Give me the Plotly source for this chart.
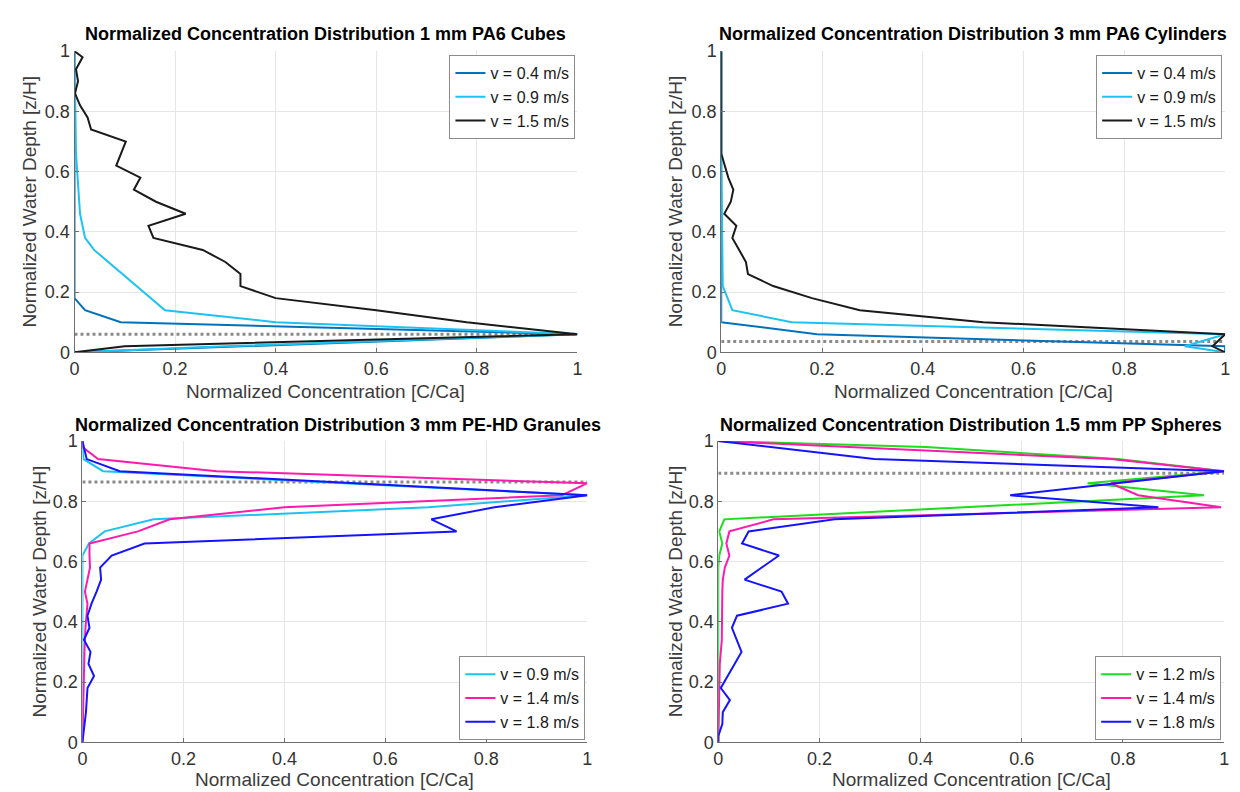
import plotly.graph_objects as go

W, H = 1240, 792

# ---------------- data (x = normalized concentration C/Ca, y = normalized depth z/H) -------------
# Panel 1: 1 mm PA6 cubes
p1_y_04 = [0, 0.02, 0.06, 0.10, 0.14, 0.18, 1.00]
p1_x_04 = [0, 0.33, 1.00, 0.092, 0.021, 0.0, 0.0]
p1_y_09 = [0, 0.02, 0.06, 0.10, 0.14, 0.34, 0.38, 0.46, 0.66, 1.00]
p1_x_09 = [0, 0.30, 1.00, 0.40, 0.18, 0.039, 0.021, 0.011, 0.003, 0.0]
p1_y_15 = [0, 0.02, 0.06, 0.10, 0.14, 0.18, 0.22, 0.26, 0.30, 0.34, 0.38, 0.42, 0.46, 0.50,
           0.54, 0.58, 0.62, 0.66, 0.70, 0.74, 0.78, 0.82, 0.86, 0.90, 0.94, 0.98, 1.00]
p1_x_15 = [0, 0.10, 1.00, 0.78, 0.60, 0.40, 0.33, 0.33, 0.30, 0.255, 0.157, 0.147, 0.221, 0.162,
           0.118, 0.131, 0.083, 0.093, 0.102, 0.033, 0.026, 0.011, 0.001, 0.007, 0.003, 0.016, 0.0]
p1_ref = 0.06

# Panel 2: 3 mm PA6 cylinders
p2_y_04 = [0, 0.02, 0.06, 0.10, 1.00]
p2_x_04 = [1.00, 1.00, 0.19, 0.0, 0.0]
p2_y_09 = [0, 0.02, 0.06, 0.10, 0.14, 0.22, 0.66, 1.00]
p2_x_09 = [1.00, 0.92, 1.00, 0.14, 0.022, 0.003, 0.0, 0.0]
p2_y_15 = [0, 0.02, 0.06, 0.10, 0.14, 0.18, 0.22, 0.26, 0.30, 0.34, 0.38, 0.42, 0.46, 0.50,
           0.54, 0.58, 0.62, 0.66, 1.00]
p2_x_15 = [1.00, 0.975, 1.00, 0.52, 0.275, 0.18, 0.103, 0.053, 0.049, 0.035, 0.022, 0.03, 0.006,
           0.019, 0.024, 0.014, 0.007, 0.0, 0.0]
p2_ref = 0.036

# Panel 3: 3 mm PE-HD granules
p3_y_09 = [0, 0.62, 0.66, 0.70, 0.74, 0.78, 0.82, 0.90, 0.94, 1.00]
p3_x_09 = [0, 0.0, 0.013, 0.044, 0.141, 0.685, 1.00, 0.041, 0.002, 0.0]
p3_y_14 = [0, 0.10, 0.20, 0.30, 0.38, 0.42, 0.46, 0.50, 0.54, 0.58, 0.62, 0.66, 0.70, 0.74,
           0.78, 0.82, 0.86, 0.90, 0.94, 0.98, 1.00]
p3_x_14 = [0, 0.001, 0.002, 0.004, 0.006, 0.008, 0.010, 0.005, 0.010, 0.015, 0.014, 0.014, 0.11,
           0.173, 0.40, 0.95, 1.00, 0.266, 0.031, 0.0, 0.0]
p3_y_18 = [0, 0.10, 0.18, 0.22, 0.26, 0.30, 0.34, 0.38, 0.42, 0.46, 0.50, 0.54, 0.58, 0.62,
           0.66, 0.70, 0.74, 0.78, 0.82, 0.90, 0.94, 1.00]
p3_x_18 = [0, 0.007, 0.010, 0.023, 0.012, 0.016, 0.003, 0.014, 0.010, 0.018, 0.028, 0.037, 0.035,
           0.058, 0.123, 0.741, 0.691, 0.816, 1.00, 0.074, 0.0085, 0.0]
p3_ref = 0.864

# Panel 4: 1.5 mm PP spheres
p4_y_12 = [0, 0.58, 0.62, 0.66, 0.70, 0.74, 0.82, 0.86, 0.90, 0.94, 0.98, 1.00]
p4_x_12 = [0, 0.0, 0.002, 0.008, 0.002, 0.012, 0.96, 0.73, 1.00, 0.79, 0.41, 0.0]
p4_y_14 = [0, 0.16, 0.26, 0.34, 0.40, 0.50, 0.54, 0.58, 0.62, 0.66, 0.70, 0.74, 0.78, 0.82,
           0.86, 0.90, 0.94, 1.00]
p4_x_14 = [0, 0.001, 0.003, 0.007, 0.007, 0.008, 0.009, 0.013, 0.022, 0.016, 0.022, 0.109, 0.994,
           0.83, 0.776, 1.00, 0.776, 0.0]
p4_y_18 = [0, 0.02, 0.06, 0.10, 0.14, 0.18, 0.30, 0.34, 0.38, 0.42, 0.46, 0.50, 0.54, 0.58,
           0.62, 0.66, 0.70, 0.74, 0.78, 0.82, 0.90, 0.94, 1.00]
p4_x_18 = [0, 0.0, 0.008, 0.009, 0.023, 0.005, 0.046, 0.036, 0.027, 0.037, 0.138, 0.125, 0.052,
           0.086, 0.12, 0.047, 0.06, 0.23, 0.87, 0.577, 1.00, 0.308, 0.0]
p4_ref = 0.893

titles = ["Normalized Concentration Distribution 1 mm PA6 Cubes",
          "Normalized Concentration Distribution 3 mm PA6 Cylinders",
          "Normalized Concentration Distribution 3 mm PE-HD Granules",
          "Normalized Concentration Distribution 1.5 mm PP Spheres"]
x_title = "Normalized Concentration [C/Ca]"
y_title = "Normalized Water Depth [z/H]"
tick_vals = [0, 0.2, 0.4, 0.6, 0.8, 1]
tick_text = ["0", "0.2", "0.4", "0.6", "0.8", "1"]

C_DBLUE = "#0072BD"
C_LBLUE = "#1CC3F2"
C_BLACK = "#1a1a1a"
C_MAG = "#FF1AAE"
C_BLUE = "#1414FF"
C_GREEN = "#1EDC1E"

panels = [
    dict(series=[(p1_x_04, p1_y_04, "v = 0.4 m/s", C_DBLUE),
                 (p1_x_09, p1_y_09, "v = 0.9 m/s", C_LBLUE),
                 (p1_x_15, p1_y_15, "v = 1.5 m/s", C_BLACK)], ref=p1_ref),
    dict(series=[(p2_x_04, p2_y_04, "v = 0.4 m/s", C_DBLUE),
                 (p2_x_09, p2_y_09, "v = 0.9 m/s", C_LBLUE),
                 (p2_x_15, p2_y_15, "v = 1.5 m/s", C_BLACK)], ref=p2_ref),
    dict(series=[(p3_x_09, p3_y_09, "v = 0.9 m/s", C_LBLUE),
                 (p3_x_14, p3_y_14, "v = 1.4 m/s", C_MAG),
                 (p3_x_18, p3_y_18, "v = 1.8 m/s", C_BLUE)], ref=p3_ref),
    dict(series=[(p4_x_12, p4_y_12, "v = 1.2 m/s", C_GREEN),
                 (p4_x_14, p4_y_14, "v = 1.4 m/s", C_MAG),
                 (p4_x_18, p4_y_18, "v = 1.8 m/s", C_BLUE)], ref=p4_ref),
]

# pixel boxes of plotting areas: (left, right, top, bottom)
boxes = [(62, 569, 34, 343), (714, 1222, 34, 343), (70, 579, 434, 743), (711, 1221, 434, 743)]
legend_pos = [(567, 38, "top"), (1219, 38, "top"), (577, 741, "bottom"), (1218, 741, "bottom")]
ytitle_x = [17, 668, 27, 668]
xtitle_y = [383, 383, 781, 781]
title_y = [16, 16, 418, 418]
title_dx = [0, 0, 3, 0]

FONT = "Liberation Sans, Arial, Helvetica, sans-serif"

fig = go.Figure()
layout = dict(width=W, height=H, margin=dict(l=0, r=0, t=0, b=0),
              paper_bgcolor="white", plot_bgcolor="white",
              font=dict(family=FONT, color="#333333"), annotations=[])

for i, p in enumerate(panels):
    k = i + 1
    xa = "x" if k == 1 else f"x{k}"
    ya = "y" if k == 1 else f"y{k}"
    lg = "legend" if k == 1 else f"legend{k}"
    # reference dotted line
    fig.add_trace(go.Scatter(x=[0, 1], y=[p["ref"], p["ref"]], mode="lines",
                             line=dict(color="#8a8a8a", width=3, dash="dot"),
                             showlegend=False, hoverinfo="skip", xaxis=xa, yaxis=ya))
    for xs, ys, name, col in p["series"]:
        fig.add_trace(go.Scatter(x=xs, y=ys, mode="lines", name=name,
                                 line=dict(color=col, width=2),
                                 xaxis=xa, yaxis=ya, legend=lg))
    l, r, t, b = boxes[i]
    axkw = dict(range=[0, 1], tickvals=tick_vals, ticktext=tick_text,
                showgrid=True, gridcolor="#e6e6e6", gridwidth=1,
                zeroline=False, showline=True, linecolor="#6e6e6e", linewidth=1,
                ticks="inside", ticklen=4, tickcolor="#6e6e6e",
                tickfont=dict(size=18, color="#333333", family=FONT))
    layout["xaxis" if k == 1 else f"xaxis{k}"] = dict(
        axkw, domain=[l / W, r / W], anchor=ya)
    layout["yaxis" if k == 1 else f"yaxis{k}"] = dict(
        axkw, domain=[1 - b / H, 1 - t / H], anchor=xa)
    lx, ly, anc = legend_pos[i]
    layout[lg] = dict(x=lx / W, y=1 - ly / H, xanchor="right", yanchor=anc,
                      xref="paper", yref="paper",
                      bgcolor="white", bordercolor="#8c8c8c", borderwidth=1,
                      font=dict(size=16, color="#1a1a1a", family=FONT),
                      itemwidth=30, tracegroupgap=0)
    cx = (l + r) / 2 / W
    layout["annotations"] += [
        dict(text=f"<b>{titles[i]}</b>", x=cx + title_dx[i] / W, y=1 - title_y[i] / H,
             xref="paper", yref="paper",
             xanchor="center", yanchor="middle", showarrow=False,
             font=dict(size=18, color="black", family=FONT)),
        dict(text=x_title, x=cx, y=1 - xtitle_y[i] / H, xref="paper", yref="paper",
             xanchor="center", yanchor="middle", showarrow=False,
             font=dict(size=19, color="#3c3c3c", family=FONT)),
        dict(text=y_title, x=ytitle_x[i] / W, y=1 - (t + b) / 2 / H, xref="paper", yref="paper",
             xanchor="center", yanchor="middle", showarrow=False, textangle=-90,
             font=dict(size=19, color="#3c3c3c", family=FONT)),
    ]

fig.update_layout(**layout)
fig.write_html("out.html")
